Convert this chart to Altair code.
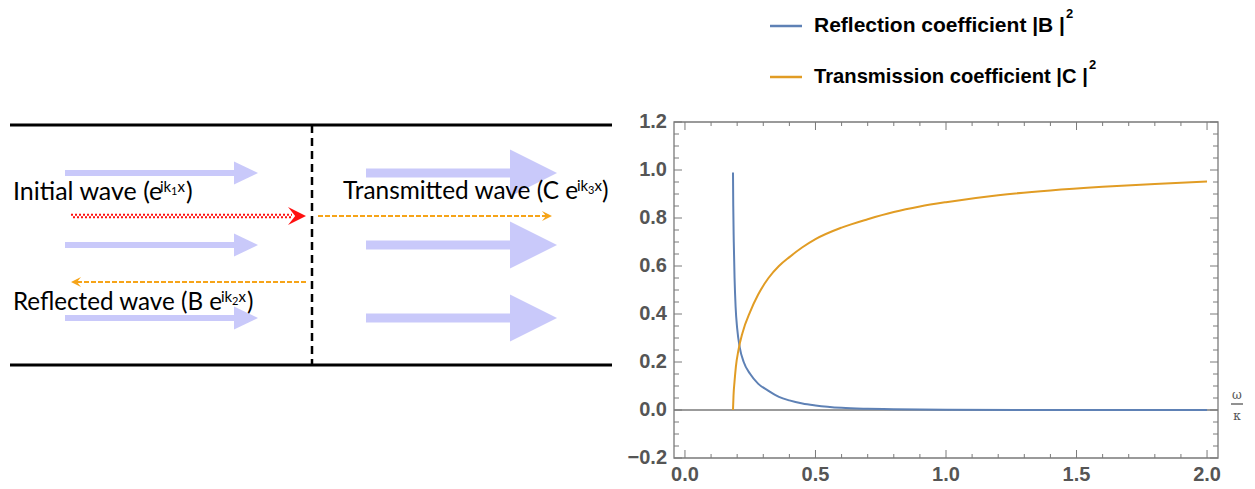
import altair as alt
import pandas as pd

# ---------------- plot data ----------------
R_X = [0.184, 0.185, 0.187, 0.190, 0.194, 0.200, 0.210, 0.225, 0.25, 0.28, 0.32, 0.36,
       0.40, 0.45, 0.50, 0.60, 0.70, 0.80, 1.0, 1.5, 2.0]
R_Y = [0.99, 0.85, 0.70, 0.55, 0.43, 0.34, 0.26, 0.20, 0.15, 0.11, 0.08, 0.055,
       0.04, 0.027, 0.019, 0.009, 0.005, 0.003, 0.001, 0.0, 0.0]
T_X = [0.184, 0.186, 0.190, 0.195, 0.205, 0.22, 0.25, 0.28, 0.32, 0.36, 0.40, 0.45,
       0.50, 0.60, 0.70, 0.80, 0.90, 1.00, 1.20, 1.40, 1.60, 1.80, 2.00]
T_Y = [0.0, 0.06, 0.12, 0.18, 0.25, 0.32, 0.41, 0.48, 0.55, 0.60, 0.637, 0.678,
       0.712, 0.760, 0.795, 0.825, 0.848, 0.866, 0.895, 0.915, 0.930, 0.942, 0.952]
SERIES = ["Reflection coefficient |B |", "Transmission coefficient |C |"]
COLORS = ["#5E81B5", "#E19C24"]

X_DOMAIN = [-0.042, 2.042]
Y_DOMAIN = [-0.2, 1.2]
X_MAJOR = [0.0, 0.5, 1.0, 1.5, 2.0]
X_LABELS = ["0.0", "0.5", "1.0", "1.5", "2.0"]
X_MINOR = [0.1, 0.2, 0.3, 0.4, 0.6, 0.7, 0.8, 0.9, 1.1, 1.2, 1.3, 1.4, 1.6, 1.7, 1.8, 1.9]
Y_MAJOR = [-0.2, 0.0, 0.2, 0.4, 0.6, 0.8, 1.0, 1.2]
Y_LABELS = ["\u22120.2", "0.0", "0.2", "0.4", "0.6", "0.8", "1.0", "1.2"]
Y_MINOR = [-0.15, -0.1, -0.05, 0.05, 0.1, 0.15, 0.25, 0.3, 0.35, 0.45, 0.5, 0.55,
           0.65, 0.7, 0.75, 0.85, 0.9, 0.95, 1.05, 1.1, 1.15]
AXIS_LABEL = ["\u03c9", "\u03ba"]

# ---------------- diagram data (left panel) ----------------
WALL_Y = [125, 365]
WALL_X = [10, 612]
BARRIER_X = [312]
SMALL_ARROW_Y = [173, 245, 318]
SMALL_ARROW_X = [65, 236, 258]      # start, head base, tip
BIG_ARROW_Y = [173, 245, 318]
BIG_ARROW_X = [366, 512, 557]
RED_WAVE = [71, 292, 306, 216]       # start, head base, tip, y
TRANS_WAVE = [318, 546, 552, 216]
REFL_WAVE = [306, 77, 71, 282]

TEXT_MAIN = ["Initial wave (e", "Transmitted wave (C e", "Reflected wave (B e"]
TEXT_SIZE = [25, 24.4, 24.2]
TEXT_MAIN_X = [13, 343, 13]
TEXT_Y = [200, 199, 310]
SUP_IK_X = [160, 577, 221]
SUB_DIGIT = ["1", "3", "2"]
SUB_DIGIT_X = [171, 588, 232]
SUP_X_X = [177.5, 594.5, 238.5]
CLOSE_X = [186, 602, 247]

FONT = "Lato"
TICKFONT = "Liberation Sans"
LEGEND_SIZE = [21, 20.2]
LEGEND_SUP_X = [1066, 1089]

# ---------------- scales ----------------
dsx = alt.Scale(domain=[0, 1255], range=[0, 1255])
dsy = alt.Scale(domain=[0, 489], range=[0, 489])


def DX(f):
    return alt.X(f, type="quantitative", scale=dsx, axis=None)


def DX2(f):
    return alt.X2(f)


def DY(f):
    return alt.Y(f, type="quantitative", scale=dsy, axis=None)


LAV = "#C9C9FA"
ORANGE = "#F6A418"
RED = "#FF1010"

walls = alt.Chart(pd.DataFrame({"x": [WALL_X[0]] * 2, "x2": [WALL_X[1]] * 2, "y": WALL_Y})).mark_rule(
    color="black", strokeWidth=3).encode(x=DX("x"), x2=DX2("x2"), y=DY("y"))
barrier = alt.Chart(pd.DataFrame({"x": BARRIER_X, "y": [WALL_Y[0]], "y2": [WALL_Y[1]]})).mark_rule(
    color="black", strokeWidth=2.5, strokeDash=[8, 5]).encode(x=DX("x"), y=DY("y"), y2=alt.Y2("y2"))

sm = pd.DataFrame({"y": SMALL_ARROW_Y, "x0": SMALL_ARROW_X[0], "xb": SMALL_ARROW_X[1], "tip": SMALL_ARROW_X[2]})
bg = pd.DataFrame({"y": BIG_ARROW_Y, "x0": BIG_ARROW_X[0], "xb": BIG_ARROW_X[1], "tip": BIG_ARROW_X[2]})
sm_shaft = alt.Chart(sm).mark_rule(color=LAV, strokeWidth=6).encode(x=DX("x0"), x2=DX2("xb"), y=DY("y"))
sm_head = alt.Chart(sm).mark_point(shape="M0,0L-2,-0.96L-2,0.96Z", filled=True, fill=LAV, opacity=1,
                                   strokeWidth=0, size=576).encode(x=DX("tip"), y=DY("y"))
bg_shaft = alt.Chart(bg).mark_rule(color=LAV, strokeWidth=9).encode(x=DX("x0"), x2=DX2("xb"), y=DY("y"))
bg_head = alt.Chart(bg).mark_point(shape="M0,0L-2,-1L-2,1Z", filled=True, fill=LAV, opacity=1,
                                   strokeWidth=0, size=2209).encode(x=DX("tip"), y=DY("y"))

red_df = pd.DataFrame({"x": [RED_WAVE[0]], "x2": [RED_WAVE[1]], "tip": [RED_WAVE[2]], "y": [RED_WAVE[3]]})
red_a = alt.Chart(red_df).mark_rule(color=RED, strokeWidth=2, strokeDash=[2, 2], yOffset=-1.2).encode(
    x=DX("x"), x2=DX2("x2"), y=DY("y"))
red_b = alt.Chart(red_df).mark_rule(color=RED, strokeWidth=2, strokeDash=[2, 2], strokeDashOffset=2,
                                    yOffset=1.2).encode(x=DX("x"), x2=DX2("x2"), y=DY("y"))
red_head = alt.Chart(red_df).mark_point(shape="M0,0L-2,-1L-1.2,0L-2,1Z", filled=True, fill=RED,
                                        opacity=1, strokeWidth=0, size=324).encode(x=DX("tip"), y=DY("y"))

tw = pd.DataFrame({"x": [TRANS_WAVE[0]], "x2": [TRANS_WAVE[1]], "tip": [TRANS_WAVE[2]], "y": [TRANS_WAVE[3]]})
rw = pd.DataFrame({"x": [REFL_WAVE[0]], "x2": [REFL_WAVE[1]], "tip": [REFL_WAVE[2]], "y": [REFL_WAVE[3]]})
tw_line = alt.Chart(tw).mark_rule(color=ORANGE, strokeWidth=2, strokeDash=[5, 2]).encode(
    x=DX("x"), x2=DX2("x2"), y=DY("y"))
tw_head = alt.Chart(tw).mark_point(shape="M0,0L-2,-1L-1.2,0L-2,1Z", filled=True, fill=ORANGE, opacity=1,
                                   strokeWidth=0, size=100).encode(x=DX("tip"), y=DY("y"))
rw_line = alt.Chart(rw).mark_rule(color=ORANGE, strokeWidth=2, strokeDash=[5, 2]).encode(
    x=DX("x"), x2=DX2("x2"), y=DY("y"))
rw_head = alt.Chart(rw).mark_point(shape="M0,0L2,-1L1.2,0L2,1Z", filled=True, fill=ORANGE, opacity=1,
                                   strokeWidth=0, size=100).encode(x=DX("tip"), y=DY("y"))

txt = pd.DataFrame({"t": TEXT_MAIN, "sz": TEXT_SIZE, "x": TEXT_MAIN_X, "y": TEXT_Y, "sx": SUP_IK_X,
                    "d": SUB_DIGIT, "dx": SUB_DIGIT_X, "xx": SUP_X_X, "cx": CLOSE_X})
t_main = alt.Chart(txt).mark_text(font=FONT, align="left", baseline="alphabetic",
                                  color="black").encode(x=DX("x"), y=DY("y"), text="t:N",
                                                        size=alt.Size("sz:Q", scale=None, legend=None))
t_ik = alt.Chart(txt).mark_text(font=FONT, fontSize=15, align="left", baseline="alphabetic", dy=-8,
                                color="black", text="ik").encode(x=DX("sx"), y=DY("y"))
t_dig = alt.Chart(txt).mark_text(font=FONT, fontSize=11, align="left", baseline="alphabetic", dy=-5,
                                 color="black").encode(x=DX("dx"), y=DY("y"), text="d:N")
t_x = alt.Chart(txt).mark_text(font=FONT, fontSize=15, align="left", baseline="alphabetic", dy=-8,
                               color="black", text="x").encode(x=DX("xx"), y=DY("y"))
t_close = alt.Chart(txt).mark_text(font=FONT, align="left", baseline="alphabetic",
                                   color="black", text=")").encode(x=DX("cx"), y=DY("y"),
                                                                   size=alt.Size("sz:Q", scale=None, legend=None))

# legend (top right)
leg_layers = []
for i, (lab, col) in enumerate(zip(SERIES, COLORS)):
    ldf = pd.DataFrame({"t": [lab]})
    ly = 26 + 51 * i
    leg_layers.append(alt.Chart(ldf).mark_rule(color=col, strokeWidth=2.5).encode(
        x=alt.value(770), x2=alt.value(802), y=alt.value(ly)))
    leg_layers.append(alt.Chart(ldf).mark_text(font=TICKFONT, fontWeight="bold", fontSize=LEGEND_SIZE[i],
                                               align="left", baseline="middle", color="black").encode(
        x=alt.value(814), y=alt.value(ly), text="t:N"))
    leg_layers.append(alt.Chart(ldf).mark_text(font=TICKFONT, fontWeight="bold", fontSize=13, align="left",
                                               baseline="middle", color="black", text="2").encode(
        x=alt.value(LEGEND_SUP_X[i]), y=alt.value(ly - 12)))

diagram = alt.layer(walls, barrier, sm_shaft, sm_head, bg_shaft, bg_head, red_a, red_b, red_head,
                    tw_line, tw_head, rw_line, rw_head, t_main, t_ik, t_dig, t_x, t_close, *leg_layers)

# ---------------- plot (right panel) ----------------
psx = alt.Scale(domain=X_DOMAIN, range=[674, 1218])
psy = alt.Scale(domain=Y_DOMAIN, range=[458, 122])


def PX(f):
    return alt.X(f, type="quantitative", scale=psx, axis=None)


def PY(f):
    return alt.Y(f, type="quantitative", scale=psy, axis=None)


GRAY = "#7a7a7a"
curve_df = pd.concat([
    pd.DataFrame({"x": R_X, "y": R_Y, "s": SERIES[0]}),
    pd.DataFrame({"x": T_X, "y": T_Y, "s": SERIES[1]}),
])
frame = alt.Chart(pd.DataFrame({"x": [X_DOMAIN[0]], "x2": [X_DOMAIN[1]], "y": [Y_DOMAIN[0]],
                                "y2": [Y_DOMAIN[1]]})).mark_rect(
    fillOpacity=0, stroke=GRAY, strokeWidth=1.3).encode(x=PX("x"), x2=alt.X2("x2"), y=PY("y"), y2=alt.Y2("y2"))
zero = alt.Chart(pd.DataFrame({"x": [X_DOMAIN[0]], "x2": [X_DOMAIN[1]], "y": [0.0]})).mark_rule(
    color=GRAY, strokeWidth=1.5).encode(x=PX("x"), x2=alt.X2("x2"), y=PY("y"))
curves = alt.Chart(curve_df).mark_line(strokeWidth=2, interpolate="monotone").encode(
    x=PX("x"), y=PY("y"),
    color=alt.Color("s:N", scale=alt.Scale(domain=SERIES, range=COLORS), legend=None))

xmaj = pd.DataFrame({"x": X_MAJOR, "t": X_LABELS})
xmin = pd.DataFrame({"x": X_MINOR})
ymaj = pd.DataFrame({"y": Y_MAJOR, "t": Y_LABELS})
ymin = pd.DataFrame({"y": Y_MINOR})
tick_layers = [
    alt.Chart(xmaj).mark_rule(color=GRAY, strokeWidth=1).encode(x=PX("x"), y=alt.value(458), y2=alt.value(450)),
    alt.Chart(xmin).mark_rule(color=GRAY, strokeWidth=1).encode(x=PX("x"), y=alt.value(458), y2=alt.value(454)),
    alt.Chart(xmaj).mark_rule(color=GRAY, strokeWidth=1).encode(x=PX("x"), y=alt.value(122), y2=alt.value(130)),
    alt.Chart(xmin).mark_rule(color=GRAY, strokeWidth=1).encode(x=PX("x"), y=alt.value(122), y2=alt.value(126)),
    alt.Chart(ymaj).mark_rule(color=GRAY, strokeWidth=1).encode(y=PY("y"), x=alt.value(674), x2=alt.value(682)),
    alt.Chart(ymin).mark_rule(color=GRAY, strokeWidth=1).encode(y=PY("y"), x=alt.value(674), x2=alt.value(679)),
    alt.Chart(ymaj).mark_rule(color=GRAY, strokeWidth=1).encode(y=PY("y"), x=alt.value(1218), x2=alt.value(1210)),
    alt.Chart(ymin).mark_rule(color=GRAY, strokeWidth=1).encode(y=PY("y"), x=alt.value(1218), x2=alt.value(1213)),
    alt.Chart(xmaj).mark_text(font=TICKFONT, fontWeight="bold", fontSize=20, color="#555555",
                              baseline="middle", align="center").encode(x=PX("x"), y=alt.value(475), text="t:N"),
    alt.Chart(ymaj).mark_text(font=TICKFONT, fontWeight="bold", fontSize=20, color="#555555",
                              baseline="middle", align="right").encode(y=PY("y"), x=alt.value(667), text="t:N"),
]
axis_lab = [
    alt.Chart(pd.DataFrame({"t": [AXIS_LABEL[0]]})).mark_text(
        font="DejaVu Serif", fontSize=12, color="#555555", baseline="middle", align="center").encode(
        x=alt.value(1237), y=alt.value(395), text="t:N"),
    alt.Chart(pd.DataFrame({"t": [AXIS_LABEL[1]]})).mark_text(
        font="DejaVu Serif", fontSize=12, color="#555555", baseline="middle", align="center").encode(
        x=alt.value(1237), y=alt.value(416), text="t:N"),
    alt.Chart(pd.DataFrame({"t": AXIS_LABEL[:1]})).mark_rule(color="#555555", strokeWidth=1.3).encode(
        x=alt.value(1231), x2=alt.value(1243), y=alt.value(404)),
]

plot = alt.layer(frame, zero, curves, *tick_layers, *axis_lab)

chart = alt.layer(diagram, plot).resolve_scale(x="independent", y="independent").properties(
    width=1255, height=489, padding=0, autosize=alt.AutoSizeParams(type="none"), background="white"
).configure_view(stroke=None)

chart.save("out.html", embed_options={"renderer": "svg", "actions": False})
